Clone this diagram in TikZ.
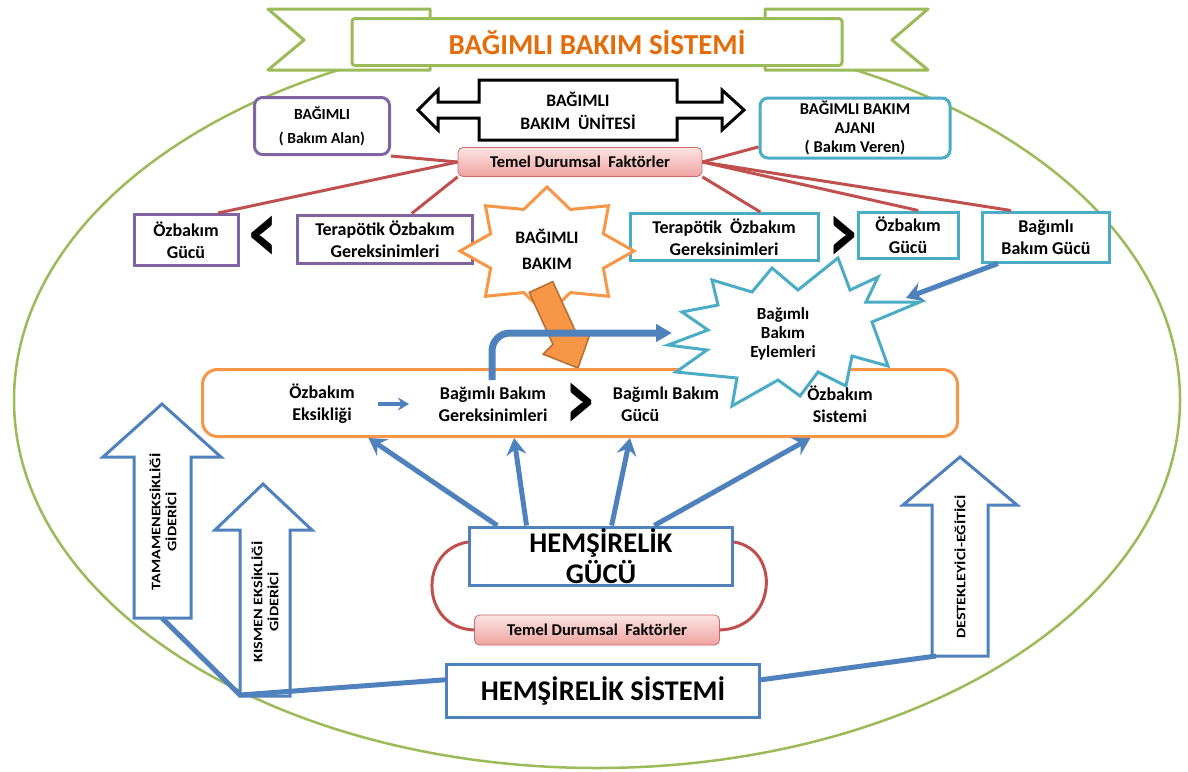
\documentclass[tikz,border=0pt]{standalone}
\usepackage{fontspec}
\setmainfont{Carlito}
\newfontfamily\widefont[FakeStretch=1.25]{Carlito}
\usetikzlibrary{arrows.meta,calc}

\definecolor{ribbongreen}{HTML}{9BBB59}
\definecolor{boxpurple}{HTML}{8064A2}
\definecolor{boxcyan}{HTML}{4BACC6}
\definecolor{lineblue}{HTML}{4F81BD}
\definecolor{boxorange}{HTML}{F79646}
\definecolor{arroworange}{HTML}{B66D31}
\definecolor{linered}{HTML}{C0504D}
\definecolor{titleorange}{HTML}{E46C0A}
\definecolor{pinktop}{HTML}{FCE4E3}
\definecolor{pinkbot}{HTML}{EFA3A1}

\newcommand{\tallsign}[1]{\scalebox{1}[1.6]{#1}}

\tikzset{
	txt/.style={font=\fontsize{18}{22}\selectfont\bfseries, align=center, text=black},
	purplebox/.style={txt, draw=boxpurple, line width=3pt, fill=white, inner sep=0pt},
	cyanbox/.style={txt, draw=boxcyan, line width=3pt, fill=white, inner sep=0pt},
	bluebox/.style={draw=lineblue, line width=3pt, fill=white, inner sep=0pt, align=center,
		font=\fontsize{28.5}{31}\selectfont\bfseries},
	factorbox/.style={font=\fontsize{16.5}{18}\selectfont\bfseries, draw=linered!85, line width=0.8pt,
		rounded corners=5pt, top color=pinktop, bottom color=pinkbot,
		minimum width=244pt, minimum height=29pt, inner sep=0pt},
	ribbon/.style={draw=ribbongreen, line width=3pt, fill=white, line join=round},
	redlink/.style={draw=linered, line width=3pt},
	bluelink/.style={draw=lineblue, line width=5pt},
	bluearrow/.style={bluelink, -{Stealth[length=17pt,width=20pt,inset=6pt]}},
	blockarrow/.style={draw=lineblue, line width=3pt, fill=white},
	sidetext/.style={rotate=90, font=\widefont\fontsize{13}{16}\selectfont\bfseries, align=center},
	chevron/.style={font=\fontsize{55}{55}\selectfont\bfseries, inner sep=0pt},
}

\begin{document}
\begin{tikzpicture}[x=1pt, y=-1pt]
	\useasboundingbox (0,0) rectangle (1188,771);
	%frame
	\draw[ribbongreen, line width=2.5pt] (597,400) ellipse [x radius=583, y radius=368];
	%ribbon
	\draw[ribbon] (268,9) -- (430,9) -- (430,70) -- (268,70) -- (304,40) -- cycle;
	\draw[ribbon] (928,9) -- (765,9) -- (765,70) -- (928,70) -- (892,40) -- cycle;
	\node[ribbon, rounded corners=3pt, minimum width=490pt, minimum height=47pt, text=titleorange,
		font=\fontsize{29}{29}\selectfont\bfseries] (title) at (597,42) {BAĞIMLI BAKIM SİSTEMİ};
	
	%unit
	\draw[black, line width=3pt, fill=white] (418,110) -- (438,90) -- (438,102) -- (479,102) -- (479,80)
	-- (677,80) -- (677,102) -- (722,102) -- (722,90) -- (744,110) -- (722,130) -- (722,118)
	-- (677,118) -- (677,140) -- (479,140) -- (479,118) -- (438,118) -- (438,130) -- cycle;
	\node[txt, font=\fontsize{17.5}{23}\selectfont\bfseries] (unit) at (578,111) {BAĞIMLI\\BAKIM\ \ ÜNİTESİ};
	\node[purplebox, rounded corners=8pt, minimum width=135pt, minimum height=57pt,
		font=\fontsize{15.5}{24}\selectfont\bfseries] (bagimli) at (322,126) {BAĞIMLI\\( Bakım Alan)};
	\node[cyanbox, rounded corners=8pt, minimum width=190pt, minimum height=60pt,
		font=\fontsize{16.5}{19}\selectfont\bfseries] (ajan) at (855,128) {BAĞIMLI BAKIM\\AJANI\\( Bakım Veren)};
	\node[factorbox] (temelT) at (580,162) {Temel Durumsal\ \ Faktörler};
	
	%row
	\node[purplebox, minimum width=104pt, minimum height=51pt] (ozgucL) at (186,240) {Özbakım\\Gücü};
	\node[chevron] (ltL) at (263,240) {\tallsign{<}};
	\node[purplebox, minimum width=175pt, minimum height=48pt] (terapL) at (385,239) {Terapötik Özbakım\\Gereksinimleri};
	\node[cyanbox, minimum width=188pt, minimum height=47pt] (terapR) at (724,237) {Terapötik\ \ Özbakım\\Gereksinimleri};
	\node[chevron] (gtR) at (843,240) {\tallsign{>}};
	\node[cyanbox, minimum width=100pt, minimum height=46pt] (ozgucR) at (908,235) {Özbakım\\Gücü};
	\node[cyanbox, minimum width=127pt, minimum height=50pt] (bbgucu) at (1046,237) {Bağımlı\\Bakım Gücü};
	
	%factors
	\draw[redlink] (temelT.west) -- (bagimli.south east);
	\draw[redlink] (temelT.west) -- ($(ozgucL.north)!0.6!(ozgucL.north east)$);
	\draw[redlink] (temelT.south west) -- ($(terapL.north)!0.3!(terapL.north east)$);
	\draw[redlink] (temelT.east) -- ($(ajan.west)!0.6!(ajan.south west)$);
	\draw[redlink] (temelT.south east) -- ($(terapR.north)!0.38!(terapR.north east)$);
	\draw[redlink] (temelT.east) -- ($(ozgucR.north)!0.2!(ozgucR.north east)$);
	\draw[redlink] (temelT.east) -- ($(bbgucu.north west)!0.23!(bbgucu.north east)$);
	
	%star
	\draw[boxorange, line width=3pt, fill=white, line join=miter]
	plot[samples at={0,...,15}] ({547+cos(\x*22.5+90)*ifthenelse(mod(\x,2)==0,87,61)},
	{251-sin(\x*22.5+90)*ifthenelse(mod(\x,2)==0,64,45)}) -- cycle;
	\node[txt, font=\fontsize{17.5}{26}\selectfont\bfseries] (bbakim) at (547,249) {BAĞIMLI\\BAKIM};
	\draw[arroworange, line width=1.5pt, fill=boxorange, line join=miter]
	(552.8,281.6) -- (576.5,333.5) -- (590.5,332.6) -- (578,368) -- (543.1,354.2) -- (552.9,344.3)
	-- (529.2,292.4) -- cycle;
	
	%self-care system
	\node[draw=boxorange, line width=3pt, rounded corners=15pt, minimum width=755pt,
		minimum height=67pt] (ozsistem) at (580,403) {};
	\node[txt] (eksik) at (322,404) {Özbakım\\Eksikliği};
	\node[txt] (gerek) at (493,404) {Bağımlı Bakım\\Gereksinimleri};
	\node[chevron] (gtM) at (580,407) {\tallsign{>}};
	\node[txt, align=left] (gucu) at (666,404) {Bağımlı Bakım\\\ \ Gücü};
	
	%actions
	\draw[boxcyan, line width=3pt, fill=white, line join=miter]
	(838,258) -- (850,290) -- (878,277) -- (866,302) -- (920,302) -- (872,322) -- (888,366)
	-- (852,356) -- (846,386) -- (818,372) -- (800,396) -- (778,380) -- (732,406) -- (737,378)
	-- (676,372) -- (707,350) -- (668,345) -- (708,330) -- (682,312) -- (718,305) -- (712,280)
	-- (752,292) -- (772,268) -- (798,290) -- cycle;
	\node[txt, font=\fontsize{17}{19}\selectfont\bfseries] (eylem) at (783,334) {Bağımlı\\Bakım\\Eylemleri};
	\node[txt] (sistem) at (840,404) {Özbakım\\Sistemi};
	\draw[lineblue, line width=3.5pt, -{Stealth[length=11pt,width=13pt]}, shorten <=20pt, shorten >=26pt]
	(eksik.east) -- (gerek.west);
	\coordinate (eylemTip) at (906,298);
	\coordinate (bendStart) at (492,380);
	\coordinate (bendEnd) at (672,333);
	\draw[lineblue, line width=7pt, rounded corners=18pt, -{Triangle[length=16pt,width=17pt]}]
	(bendStart) |- (bendEnd);
	\draw[bluearrow] ($(bbgucu.south west)!0.13!(bbgucu.south east)$) -- (eylemTip);
	
	%nursing
	\node[bluebox, minimum width=263pt, minimum height=58pt] (hgucu) at (601,556) {HEMŞİRELİK\\GÜCÜ};
	\node[factorbox, minimum width=245pt, minimum height=30pt] (temelB) at (597,630) {Temel Durumsal\ \ Faktörler};
	\draw[redlink] ($(hgucu.north west)!0.27!(hgucu.south west)$) .. controls (418,550) and (420,628) .. (temelB.west);
	\draw[redlink] ($(hgucu.north east)!0.27!(hgucu.south east)$) .. controls (782,550) and (776,628) .. (temelB.east);
	\node[bluebox, minimum width=313pt, minimum height=53pt] (hsistem) at (603,691) {HEMŞİRELİK SİSTEMİ};
	\draw[bluearrow] ($(hgucu.north west)!0.11!(hgucu.north east)$) -- ($(ozsistem.south west)!0.221!(ozsistem.south east)$);
	\draw[bluearrow] ($(hgucu.north west)!0.22!(hgucu.north east)$) -- ($(ozsistem.south west)!0.413!(ozsistem.south east)$);
	\draw[bluearrow] ($(hgucu.north west)!0.54!(hgucu.north east)$) -- ($(ozsistem.south west)!0.566!(ozsistem.south east)$);
	\draw[bluearrow] ($(hgucu.north west)!0.70!(hgucu.north east)$) -- ($(ozsistem.south west)!0.804!(ozsistem.south east)$);
	
	%systems
	\draw[blockarrow] (162,404) -- (221,457) -- (191,457) -- (191,618) -- (134,618) -- (134,457) -- (103,457) -- cycle;
	\draw[blockarrow] (263,484) -- (312,530) -- (290,530) -- (290,696) -- (240,696) -- (240,530) -- (215,530) -- cycle;
	\draw[blockarrow] (960,457) -- (1017,505) -- (988,505) -- (988,656) -- (932,656) -- (932,505) -- (903,505) -- cycle;
	\node[sidetext] (tamamen) at (163,522) {TAMAMENEKSİKLİĞİ\\GİDERİCİ};
	\node[sidetext] (kismen) at (265,602) {KISMEN EKSİKLİĞİ\\GİDERİCİ};
	\node[sidetext] (destek) at (960,567) {DESTEKLEYİCİ-EĞİTİCİ};
	\coordinate (tamamenBase) at (162,618);
	\coordinate (kismenBase) at (240,695);
	\coordinate (destekBase) at (936,656);
	\draw[bluelink, line join=round] (tamamenBase) -- (kismenBase) -- ($(hsistem.north west)!0.3!(hsistem.south west)$);
	\draw[bluelink] ($(hsistem.north east)!0.3!(hsistem.south east)$) -- (destekBase);
\end{tikzpicture}
\end{document}
